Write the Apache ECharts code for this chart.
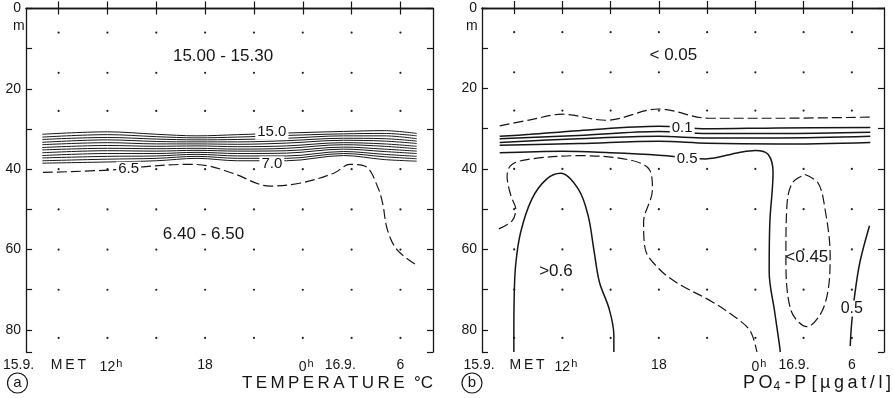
<!DOCTYPE html>
<html>
<head>
<meta charset="utf-8">
<script src="https://cdn.jsdelivr.net/npm/echarts@6/dist/echarts.min.js"></script>
<style>
  html, body { margin: 0; padding: 0; background: #fff; }
  #chart { width: 894px; height: 398px; }
</style>
</head>
<body>
<div id="chart"></div>
<script>
// time in hours from 0h on 15.9. (24 = 0h on 16.9.), depth in m
const tickHours = [9, 12, 15, 18, 21, 24, 27, 30];
const depthTicks = [0, 20, 40, 60, 80];
const sampleHours = [9, 12, 15, 18, 21, 24, 27, 30];
const sampleDepths = [6, 16, 25.5, 40, 50, 60, 70, 82];

const timeLabelsA = [[7, "15.9."], [9.6, "MET"], [12, "12h"], [18, "18"], [24, "0h"], [26.3, "16.9."], [30, "6"]];
const timeLabelsB = [[7, "15.9."], [9.8, "MET"], [12, "12h"], [18, "18"], [24, "0h"], [26.4, "16.9."], [30, "6"]];

// (a) temperature: stacked thermocline isolines 15.0 ... 7.0
const bandHours = [8, 12, 15, 17.5, 20, 23, 26.5, 29, 31];
const tempIsolines = [
  [31.3, 30.7, 31.3, 31.7, 31.4, 31.0, 30.6, 30.4, 31.1],
  [32.0, 31.4, 31.9, 32.2, 32.0, 31.6, 31.2, 31.1, 31.7],
  [32.6, 32.1, 32.5, 32.7, 32.6, 32.3, 31.7, 31.7, 32.4],
  [33.3, 32.7, 33.1, 33.2, 33.2, 32.9, 32.3, 32.4, 33.0],
  [33.9, 33.4, 33.7, 33.7, 33.8, 33.5, 32.8, 33.0, 33.6],
  [34.6, 34.1, 34.3, 34.2, 34.4, 34.2, 33.4, 33.7, 34.3],
  [35.2, 34.8, 34.9, 34.8, 35.0, 34.8, 33.9, 34.3, 34.9],
  [35.9, 35.4, 35.5, 35.3, 35.5, 35.4, 34.5, 35.0, 35.5],
  [36.6, 36.1, 36.1, 35.8, 36.1, 36.0, 35.0, 35.6, 36.1],
  [37.2, 36.8, 36.7, 36.3, 36.7, 36.7, 35.6, 36.3, 36.8],
  [37.9, 37.5, 37.3, 36.8, 37.3, 37.3, 36.1, 36.9, 37.4],
  [38.5, 38.2, 37.9, 37.3, 37.9, 37.9, 36.6, 37.6, 38.0]
];
const temp65 = [[8.04, 40.8], [12.16, 40.2], [14.2, 39.4], [16.9, 38.8], [18.1, 39.1], [19.7, 41.0], [22.0, 44.2],
  [23.8, 43.5], [25.9, 41.0], [26.9, 38.8], [27.9, 39.4], [28.6, 44.4], [28.9, 48.4], [29.2, 55.1], [29.8, 60.1], [30.9, 63.6]];
const tempLabels = [[19.1, 11.9, "15.00 - 15.30", 0], [22.1, 30.8, "15.0", 1], [22.1, 38.7, "7.0", 1],
  [13.3, 40.0, "6.5", 1], [17.9, 56.1, "6.40 - 6.50", 0]];

// (b) PO4-P
const phos005 = [[8.1, 29.3], [10, 27.8], [12, 26.4], [14.7, 27.9], [18, 25.1], [21.1, 27.4], [25.5, 27.4], [31.15, 27.1]];
const phos01 = [[8.1, 31.9], [10, 31.4], [13, 30.5], [18, 29.4], [21, 30.0], [25.4, 29.8], [31.15, 29.7]];
const phos02 = [[8.1, 32.5], [13, 31.7], [18, 30.7], [21, 31.2], [25.4, 31.2], [31.15, 30.9]];
const phos03 = [[8.1, 33.4], [13, 32.5], [18, 31.9], [21, 32.3], [25.4, 32.3], [31.15, 31.9]];
const phos04 = [[8.1, 34.1], [13, 33.7], [18, 33.1], [21, 33.6], [25.4, 33.8], [31.15, 33.4]];
const phos05 = [[8.1, 36.0], [12, 35.6], [15, 36.0], [18, 36.6], [20.9, 37.5], [23, 35.9], [24, 35.4], [24.8, 36.4],
  [25.1, 40.9], [24.9, 53.3], [24.86, 65.6], [25.2, 75.5], [25.5, 83.8], [25.55, 85.5]];
const phos06 = [[8.98, 85.5], [8.98, 82.9], [9.0, 72.2], [9.09, 64], [9.4, 55.8], [10.1, 47.5], [11.0, 42.6], [11.9, 41.1],
  [13, 45.1], [13.6, 51.6], [13.95, 59.9], [14.3, 68.1], [14.9, 74.7], [15.2, 81.3], [15.2, 85.5]];
const phos055 = [[8.05, 54.9], [8.87, 52.9], [9.1, 50], [8.8, 46.7], [8.56, 41.8], [8.86, 38.9], [10.1, 37.5], [13, 36.7],
  [16.1, 37.7], [17.4, 40.1], [17.6, 45.1], [17.05, 53.3], [17.15, 59.9], [18, 64.8], [19.2, 68.5], [21.3, 73],
  [23, 77.6], [23.7, 80.4], [24.1, 85.5]];
const phos045 = [[27.1, 41.4], [27.9, 43.5], [28.3, 49.2], [28.65, 61.5], [28.3, 73.9], [27.2, 79.2], [26.2, 75],
  [25.9, 61.5], [25.96, 49.2], [26.3, 43.5], [27.1, 41.4]];
const phos05right = [[31.1, 54.1], [30.5, 63.2], [30.15, 72.2], [29.98, 78.8], [29.9, 84]];
const phosLabels = [[18.9, 11.7, "< 0.05", 0], [19.45, 29.8, "0.1", 1], [19.76, 37.4, "0.5", 1],
  [11.6, 65.5, ">0.6", 0], [27.2, 61.9, "<0.45", 0], [30.0, 74.7, "0.5", 2]];

const FONT = "'Liberation Sans', Arial, sans-serif";
const INK = "#161616";

const samplePoints = [];
sampleHours.forEach((h) => sampleDepths.forEach((d) => samplePoints.push([h, d])));

function timeAxes(gridIndex, labels, padMin) {
  const lookup = new Map(labels.map(([v, t]) => [v, t]));
  const axisLine = { show: true, lineStyle: { color: INK, width: 1.3 } };
  return [
    {
      gridIndex, type: "value", min: 7, max: 32, position: "bottom",
      axisLine, splitLine: { show: false },
      axisTick: { customValues: tickHours, inside: true, length: 7, lineStyle: { color: INK, width: 1.2 } },
      axisLabel: {
        customValues: labels.map((l) => l[0]), margin: 6, color: INK, fontFamily: FONT, fontSize: 14,
        formatter: (v) => {
          const t = lookup.get(v) || "";
          if (t === "15.9.") return "{w|15.9.}";
          if (t === "MET") return "M\u2009E\u2009T";
          if (t.endsWith("h")) return "{p|}" + t.slice(0, -1) + "{s|h}";
          return t;
        },
        rich: {
          w: { fontFamily: FONT, fontSize: 14, color: INK, padding: [0, padMin, 0, 0] },
          p: { width: 7 },
          s: { fontFamily: FONT, fontSize: 11, color: INK, padding: [0, 0, 7, 1] }
        }
      }
    },
    {
      gridIndex, type: "value", min: 7, max: 32, position: "top",
      axisLine, splitLine: { show: false }, axisLabel: { show: false },
      axisTick: { customValues: tickHours, inside: true, length: 6, lineStyle: { color: INK, width: 1.2 } }
    }
  ];
}

function depthAxes(gridIndex) {
  const axisLine = { show: true, lineStyle: { color: INK, width: 1.3 } };
  const axisTick = { inside: true, length: 6, lineStyle: { color: INK, width: 1.2 } };
  return [
    {
      gridIndex, type: "value", inverse: true, min: 0, max: 85.5, interval: 10, position: "left",
      axisLine, axisTick, splitLine: { show: false },
      axisLabel: {
        margin: 5, color: INK, fontFamily: FONT, fontSize: 14,
        formatter: (v) => (depthTicks.includes(v) ? String(v) : "")
      }
    },
    {
      gridIndex, type: "value", inverse: true, min: 0, max: 85.5, interval: 10, position: "right",
      axisLine, axisTick, splitLine: { show: false }, axisLabel: { show: false }
    }
  ];
}

function contour(axis, data, dashed, width) {
  return {
    type: "line", xAxisIndex: axis, yAxisIndex: axis, data, symbol: "none", smooth: 0.35,
    silent: true, z: 2,
    lineStyle: { color: INK, width: width || 1.4, type: dashed ? [10, 4] : "solid" }
  };
}

function dots(axis) {
  return {
    type: "scatter", xAxisIndex: axis, yAxisIndex: axis, data: samplePoints,
    symbolSize: 2.2, itemStyle: { color: "#222", opacity: 1 }, silent: true, z: 1
  };
}

function labels(axis, list) {
  return {
    type: "scatter", xAxisIndex: axis, yAxisIndex: axis, symbolSize: 0, silent: true, z: 5,
    itemStyle: { opacity: 1 },
    data: list.map(([h, d, text, onLine]) => ({
      value: [h, d], name: text,
      label: onLine
        ? { backgroundColor: "#fff", padding: [0, 2], fontSize: onLine === 2 ? 16 : 15, color: INK }
        : { fontSize: 17, color: INK }
    })),
    label: { show: true, position: "inside", formatter: "{b}", color: INK, fontFamily: FONT }
  };
}

const series = [dots(0), dots(2)];
tempIsolines.forEach((row) => series.push(contour(0, bandHours.map((h, i) => [h, row[i]]), false, 1)));
series.push(contour(0, temp65, true, 1.2));
series.push(labels(0, tempLabels));

[phos01, phos02, phos03, phos04, phos05, phos06, phos05right].forEach((d) => series.push(contour(2, d, false, 1.5)));
[phos005, phos055, phos045].forEach((d) => series.push(contour(2, d, true, 1.2)));
series.push(labels(2, phosLabels));

const sp = "\u2009";
const option = {
  animation: false,
  backgroundColor: "#fff",
  grid: [
    { left: 26, top: 8.5, width: 407, height: 343.5 },
    { left: 482, top: 8, width: 402, height: 344 }
  ],
  xAxis: [...timeAxes(0, timeLabelsA, 15), ...timeAxes(1, timeLabelsB, 6)],
  yAxis: [...depthAxes(0), ...depthAxes(1)],
  series,
  graphic: [
    { type: "text", left: 13, top: 19, style: { text: "m", font: "14px " + FONT, fill: INK } },
    { type: "text", left: 466, top: 19, style: { text: "m", font: "14px " + FONT, fill: INK } },
    { type: "circle", shape: { cx: 17.5, cy: 383, r: 10 }, style: { fill: "none", stroke: INK, lineWidth: 1.2 } },
    { type: "text", x: 17.5, y: 383, style: { text: "a", font: "15px " + FONT, fill: INK, align: "center", verticalAlign: "middle" } },
    { type: "circle", shape: { cx: 472, cy: 383, r: 10 }, style: { fill: "none", stroke: INK, lineWidth: 1.2 } },
    { type: "text", x: 472, y: 383, style: { text: "b", font: "15px " + FONT, fill: INK, align: "center", verticalAlign: "middle" } },
    {
      type: "text", x: 433, y: 383,
      style: { text: "TEMPERATURE".split("").join(sp) + "  °C", font: "17px " + FONT, fill: INK, align: "right", verticalAlign: "middle" }
    },
    {
      type: "text", x: 891, y: 383,
      style: {
        text: "{t|P" + sp + "O}{u|4}{t|" + sp + "-" + sp + "P " + "[µgat/l]".split("").join(sp) + "}",
        align: "right", verticalAlign: "middle",
        rich: {
          t: { font: "18px " + FONT, fill: INK },
          u: { font: "12px " + FONT, fill: INK, padding: [8, 1, 0, 1] }
        }
      }
    }
  ]
};

const chart = echarts.init(document.getElementById("chart"));
chart.setOption(option);
</script>
</body>
</html>
